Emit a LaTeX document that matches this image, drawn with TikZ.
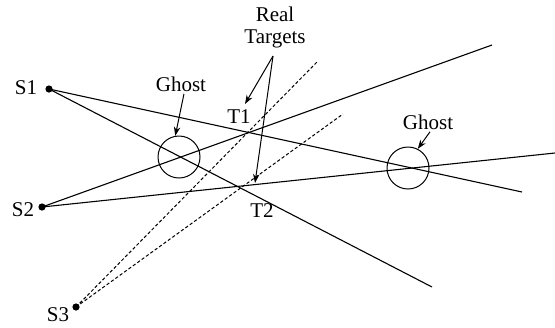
\documentclass[tikz,border=0pt]{standalone}
\usepackage{fontspec}
\setmainfont{Liberation Serif}
\usetikzlibrary{arrows.meta,positioning}

\begin{document}
\begin{tikzpicture}[
  x=0.5pt, y=-0.5pt,
  sensor/.style={circle, fill, inner sep=0pt, minimum size=3.6pt},
  ghost/.style={draw, circle, inner sep=0pt, minimum size=21pt, line width=0.5pt},
  lbl/.style={inner sep=1pt, font=\fontsize{10.5}{11}\selectfont, align=center},
  track/.style={line width=0.55pt},
  dtrack/.style={line width=0.5pt, dash pattern=on 1.6pt off 1.1pt},
  >={Stealth[length=4.5pt, width=3.2pt]}
]
  \useasboundingbox (0,0) rectangle (555,327);

  % sensors
  \node[sensor] (s1) at (49,89) {};
  \node[sensor] (s2) at (42,207) {};
  \node[sensor] (s3) at (76,307) {};
  \node[lbl] (s1lbl) at (26,88) {S1};
  \node[lbl] (s2lbl) at (23,210) {S2};
  \node[lbl] (s3lbl) at (58,315) {S3};

  % far ends of the bearing lines
  \coordinate (e11) at (522,192);
  \coordinate (e12) at (432,287);
  \coordinate (e21) at (492,45);
  \coordinate (e22) at (555,153);
  \coordinate (e31) at (317,62);
  \coordinate (e32) at (343,114);

  \draw[track] (s1.center) -- (e11);
  \draw[track] (s1.center) -- (e12);
  \draw[track] (s2.center) -- (e21);
  \draw[track] (s2.center) -- (e22);
  \draw[dtrack] (s3.center) -- (e31);
  \draw[dtrack] (s3.center) -- (e32);

  % ghosts
  \node[ghost] (gleft) at (179,157) {};
  \node[ghost] (gright) at (408,168) {};
  \node[lbl] (glbl1) at (181,84) {Ghost};
  \node[lbl] (glbl2) at (428,122) {Ghost};
  \draw[->, line width=0.5pt] ([xshift=1.5pt]glbl1.south) -- (gleft.100);
  \draw[->, line width=0.5pt] ([xshift=1pt]glbl2.south) -- (gright.63);

  % real targets
  \node[lbl] (t1lbl) at (239,117) {T1};
  \node[lbl] (t2lbl) at (262,211) {T2};
  \coordinate (t1) at (245,104);
  \coordinate (t2) at (255,183);
  \node[lbl] (real) at (275,27) {Real\\Targets};
  \coordinate (rt) at (273,56);
  \draw[->, line width=0.5pt] (rt) -- (t1);
  \draw[->, line width=0.5pt] (rt) -- (t2);
\end{tikzpicture}
\end{document}
